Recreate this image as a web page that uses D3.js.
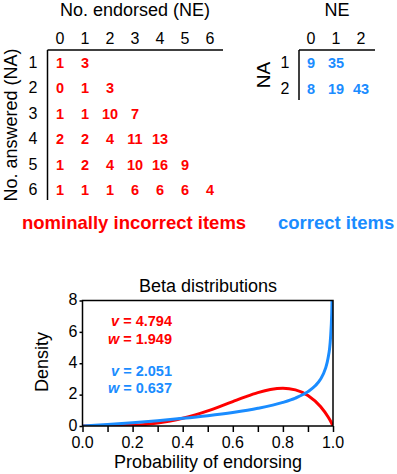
<!DOCTYPE html>
<html><head><meta charset="utf-8">
<script src="https://cdn.jsdelivr.net/npm/d3@7"></script>
<style>
html,body{margin:0;padding:0;background:#fff;}
svg{display:block;font-family:"Liberation Sans",Arial,Helvetica,sans-serif;}
</style></head>
<body>
<svg id="chart" width="397" height="474"></svg>
<script>
// ---- data ----
const neCols = [0, 1, 2, 3, 4, 5, 6];
const naRows = [1, 2, 3, 4, 5, 6];
const incorrectCounts = [
  [1, 3],
  [0, 1, 3],
  [1, 1, 10, 7],
  [2, 2, 4, 11, 13],
  [1, 2, 4, 10, 16, 9],
  [1, 1, 1, 6, 6, 6, 4]
];
const neColsCorrect = [0, 1, 2];
const naRowsCorrect = [1, 2];
const correctCounts = [
  [9, 35],
  [8, 19, 43]
];
const redX = [0, 0.05, 0.1, 0.15, 0.2, 0.25, 0.3, 0.35, 0.4, 0.45, 0.5, 0.55, 0.6, 0.65, 0.7, 0.75, 0.8, 0.85, 0.9, 0.95, 0.98, 0.99, 1.0];
const redDensity = [0, 0.0003, 0.004, 0.017, 0.047, 0.102, 0.191, 0.32, 0.492, 0.708, 0.965, 1.254, 1.559, 1.861, 2.13, 2.327, 2.406, 2.304, 1.947, 1.239, 0.585, 0.314, 0];
const blueX = [0, 0.05, 0.1, 0.2, 0.3, 0.4, 0.5, 0.6, 0.7, 0.8, 0.85, 0.9, 0.93, 0.95, 0.97, 0.98, 0.99, 0.995, 0.9962];
const blueDensity = [0, 0.046, 0.098, 0.212, 0.341, 0.487, 0.658, 0.865, 1.129, 1.505, 1.78, 2.19, 2.58, 2.98, 3.67, 4.30, 5.58, 7.22, 8.0];
const xTicks = [0, 0.1, 0.2, 0.3, 0.4, 0.5, 0.6, 0.7, 0.8, 0.9, 1.0];
const xTickLabels = [0, 0.2, 0.4, 0.6, 0.8, 1.0];
const yTicks = [0, 2, 4, 6, 8];
const redParams = ["4.794", "1.949"];
const blueParams = ["2.051", "0.637"];

const RED = "#ff0000", BLUE = "#1a8cff";
const svg = d3.select("#chart");

// ---- left table ----
const cx = d3.scalePoint().domain(neCols).range([60, 210]);
const ry = d3.scalePoint().domain(naRows).range([68, 195]);
svg.append("text").attr("x", 135).attr("y", 16).attr("text-anchor", "middle")
  .attr("font-size", 18).text("No. endorsed (NE)");
svg.append("g").selectAll("text").data(neCols).join("text")
  .attr("x", d => cx(d)).attr("y", 43.5).attr("text-anchor", "middle")
  .attr("font-size", 16).text(d => d);
svg.append("g").selectAll("text").data(naRows).join("text")
  .attr("x", 33).attr("y", d => ry(d)).attr("text-anchor", "middle")
  .attr("font-size", 16).text(d => d);
svg.append("line").attr("x1", 47.5).attr("x2", 223).attr("y1", 50).attr("y2", 50)
  .attr("stroke", "#000").attr("stroke-width", 1.5);
svg.append("line").attr("x1", 47.5).attr("x2", 47.5).attr("y1", 50).attr("y2", 200)
  .attr("stroke", "#000").attr("stroke-width", 1.5);
svg.append("text").attr("transform", "translate(17,125) rotate(-90)")
  .attr("text-anchor", "middle").attr("font-size", 18).text("No. answered (NA)");
incorrectCounts.forEach((row, i) => {
  svg.append("g").selectAll("text").data(row).join("text")
    .attr("x", (d, j) => cx(neCols[j])).attr("y", ry(naRows[i]))
    .attr("text-anchor", "middle").attr("font-size", 14.5).attr("font-weight", "bold")
    .attr("fill", RED).text(d => d);
});
svg.append("text").attr("x", 22).attr("y", 229).attr("font-size", 18.5)
  .attr("font-weight", "bold").attr("fill", RED).text("nominally incorrect items");

// ---- right table ----
const cx2 = d3.scalePoint().domain(neColsCorrect).range([311, 361]);
const ry2 = d3.scalePoint().domain(naRowsCorrect).range([68, 93.5]);
svg.append("text").attr("x", 337).attr("y", 16).attr("text-anchor", "middle")
  .attr("font-size", 18).text("NE");
svg.append("g").selectAll("text").data(neColsCorrect).join("text")
  .attr("x", d => cx2(d)).attr("y", 43.5).attr("text-anchor", "middle")
  .attr("font-size", 16).text(d => d);
svg.append("g").selectAll("text").data(naRowsCorrect).join("text")
  .attr("x", 285).attr("y", d => ry2(d)).attr("text-anchor", "middle")
  .attr("font-size", 16).text(d => d);
svg.append("line").attr("x1", 299).attr("x2", 375).attr("y1", 50).attr("y2", 50)
  .attr("stroke", "#000").attr("stroke-width", 1.5);
svg.append("line").attr("x1", 299).attr("x2", 299).attr("y1", 50).attr("y2", 100)
  .attr("stroke", "#000").attr("stroke-width", 1.5);
svg.append("text").attr("transform", "translate(270,75) rotate(-90)")
  .attr("text-anchor", "middle").attr("font-size", 19).text("NA");
correctCounts.forEach((row, i) => {
  svg.append("g").selectAll("text").data(row).join("text")
    .attr("x", (d, j) => cx2(neColsCorrect[j])).attr("y", ry2(naRowsCorrect[i]))
    .attr("text-anchor", "middle").attr("font-size", 14.5).attr("font-weight", "bold")
    .attr("fill", BLUE).text(d => d);
});
svg.append("text").attr("x", 278).attr("y", 229).attr("font-size", 18.5)
  .attr("font-weight", "bold").attr("fill", BLUE).text("correct items");

// ---- beta distributions ----
const x = d3.scaleLinear().domain([0, 1]).range([82.5, 333]);
const y = d3.scaleLinear().domain([0, 8]).range([426, 300.5]);

svg.append("text").attr("x", 208).attr("y", 291.5).attr("text-anchor", "middle")
  .attr("font-size", 18).text("Beta distributions");

// tick marks (every 0.1)
const xAxis = svg.append("g").attr("transform", "translate(0,426)")
  .call(d3.axisBottom(x).tickValues(xTicks).tickSize(6).tickFormat(""));
xAxis.select(".domain").remove();
xAxis.selectAll("line").attr("stroke-width", 1.5);
xAxis.selectAll("text").remove();
// tick labels (every 0.2)
svg.append("g").selectAll("text").data(xTickLabels).join("text")
  .attr("x", d => x(d)).attr("y", 447.5).attr("text-anchor", "middle")
  .attr("font-size", 16).text(d => d3.format(".1f")(d));

const yAxis = svg.append("g").attr("transform", "translate(82.5,0)")
  .call(d3.axisLeft(y).tickValues(yTicks).tickSize(3).tickPadding(2));
yAxis.select(".domain").remove();
yAxis.selectAll("line").attr("stroke-width", 1.5);
yAxis.selectAll("text").attr("font-size", 16).attr("font-family", null)
  .attr("dy", "0.26em");

svg.append("defs").append("clipPath").attr("id", "plotclip")
  .append("rect").attr("x", 82.5).attr("y", 300.5).attr("width", 250.5).attr("height", 125.5);

const line = d3.line().x(d => x(d[0])).y(d => y(d[1])).curve(d3.curveMonotoneX);
const pg = svg.append("g").attr("clip-path", "url(#plotclip)");
pg.append("path").datum(redX.map((v, i) => [v, redDensity[i]]))
  .attr("d", line).attr("fill", "none").attr("stroke", RED).attr("stroke-width", 3);
pg.append("path").datum(blueX.map((v, i) => [v, blueDensity[i]]))
  .attr("d", line).attr("fill", "none").attr("stroke", BLUE).attr("stroke-width", 3);

svg.append("rect").attr("x", 82.5).attr("y", 300.5).attr("width", 250.5).attr("height", 125.5)
  .attr("fill", "none").attr("stroke", "#000").attr("stroke-width", 1.5);

function param(yy, label, val, color) {
  const t = svg.append("text").attr("x", 172).attr("y", yy).attr("text-anchor", "end")
    .attr("font-size", 14.5).attr("font-weight", "bold").attr("fill", color);
  t.append("tspan").attr("font-style", "italic").text(label);
  t.append("tspan").text(" = " + val);
}
param(326, "v", redParams[0], RED);
param(343.5, "w", redParams[1], RED);
param(376, "v", blueParams[0], BLUE);
param(393, "w", blueParams[1], BLUE);

svg.append("text").attr("transform", "translate(48,362) rotate(-90)")
  .attr("text-anchor", "middle").attr("font-size", 18).text("Density");
svg.append("text").attr("x", 208).attr("y", 467.5).attr("text-anchor", "middle")
  .attr("font-size", 18).text("Probability of endorsing");
</script>
</body></html>
